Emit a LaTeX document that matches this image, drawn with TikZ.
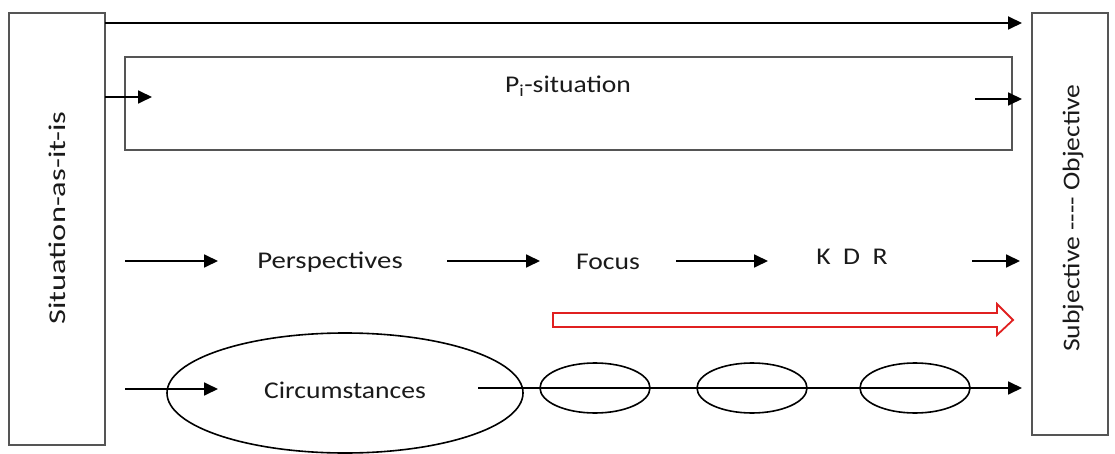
\documentclass[tikz,border=0pt]{standalone}
\usepackage{fontspec}
\setmainfont{Carlito}
\usetikzlibrary{arrows.meta,shapes.geometric,calc}
\definecolor{edge}{HTML}{555555}
\definecolor{ink}{HTML}{1A1A1A}
\definecolor{hollowred}{HTML}{E02020}
\tikzset{
  frame/.style={draw=edge, line width=1.4pt, fill=white, inner sep=0pt},
  lbl/.style={font=\fontsize{24}{28}\selectfont, text=ink, inner sep=0pt},
  flow/.style={draw=black, line width=1.8pt, -{Triangle[length=14pt,width=13pt]}},
  ring/.style={ellipse, draw=black, line width=1.6pt, inner sep=0pt},
}
\begin{document}
\begin{tikzpicture}[x=1pt,y=-1pt]
\useasboundingbox (0,0) rectangle (1115,454);

% outer boxes
\node[frame, minimum width=96pt, minimum height=432pt] (sit) at (57,229) {};
\node[lbl, rotate=90] (sittxt) at (57,218) {\scalebox{1.35}[1]{Situation-as-it-is}};
\node[frame, minimum width=76pt, minimum height=422pt] (obj) at (1070,224) {};
\node[lbl, rotate=90] (objtxt) at (1073,218) {\scalebox{1.15}[1]{Subjective -{}-{}-{}- Objective}};

% P_i-situation band
\node[frame, minimum width=887pt, minimum height=93pt] (pbox) at (568.5,103.5) {};
\node[lbl] (ptxt) at (568,86) {\scalebox{1.15}[1]{P\textsubscript{i}-situation}};

% free ends
\coordinate (t0) at (105,23);  \coordinate (t1) at (1022,23);
\coordinate (p0) at (105,97);  \coordinate (p1) at (152,97);
\coordinate (q0) at (975,99);  \coordinate (q1) at (1022,99);

\draw[flow] (t0) -- (t1);
\draw[flow] (p0) -- (p1);
\draw[flow] (q0) -- (q1);

% middle chain
\node[lbl] (persp) at (330,262) {\scalebox{1.2}[1]{Perspectives}};
\node[lbl] (focus) at (608,262) {\scalebox{1.15}[1]{Focus}};
\node[lbl] (kdr) at (852,257) {\scalebox{1.15}[1]{K\ \ D\ \ R}};
\coordinate (m0) at (125,261); \coordinate (m1) at (218,261);
\coordinate (m2) at (447,261); \coordinate (m3) at (540,261);
\coordinate (m4) at (676,261); \coordinate (m5) at (768,261);
\coordinate (m6) at (972,261); \coordinate (m7) at (1020,261);
\draw[flow] (m0) -- (m1);
\draw[flow] (m2) -- (m3);
\draw[flow] (m4) -- (m5);
\draw[flow] (m6) -- (m7);

% hollow red arrow
\draw[draw=hollowred, line width=1.8pt, line join=miter]
  (553,313) -- (997,313) -- (997,304) -- (1013,320) -- (997,335) -- (997,327) -- (553,327) -- cycle;

% circumstances row
\node[ring, minimum width=356pt, minimum height=120pt] (circ) at (345,393) {};
\node[lbl] (circtxt) at (345,390) {\scalebox{1.15}[1]{Circumstances}};
\node[ring, minimum width=110pt, minimum height=50pt] (e1) at (595,388) {};
\node[ring, minimum width=110pt, minimum height=50pt] (e2) at (752,388) {};
\node[ring, minimum width=110pt, minimum height=50pt] (e3) at (915,388) {};
\coordinate (c0) at (125,389); \coordinate (c1) at (218,389);
\coordinate (c2) at (478,388); \coordinate (c3) at (1022,388);
\draw[flow] (c0) -- (c1);
\draw[flow] (c2) -- (c3);
\end{tikzpicture}
\end{document}
